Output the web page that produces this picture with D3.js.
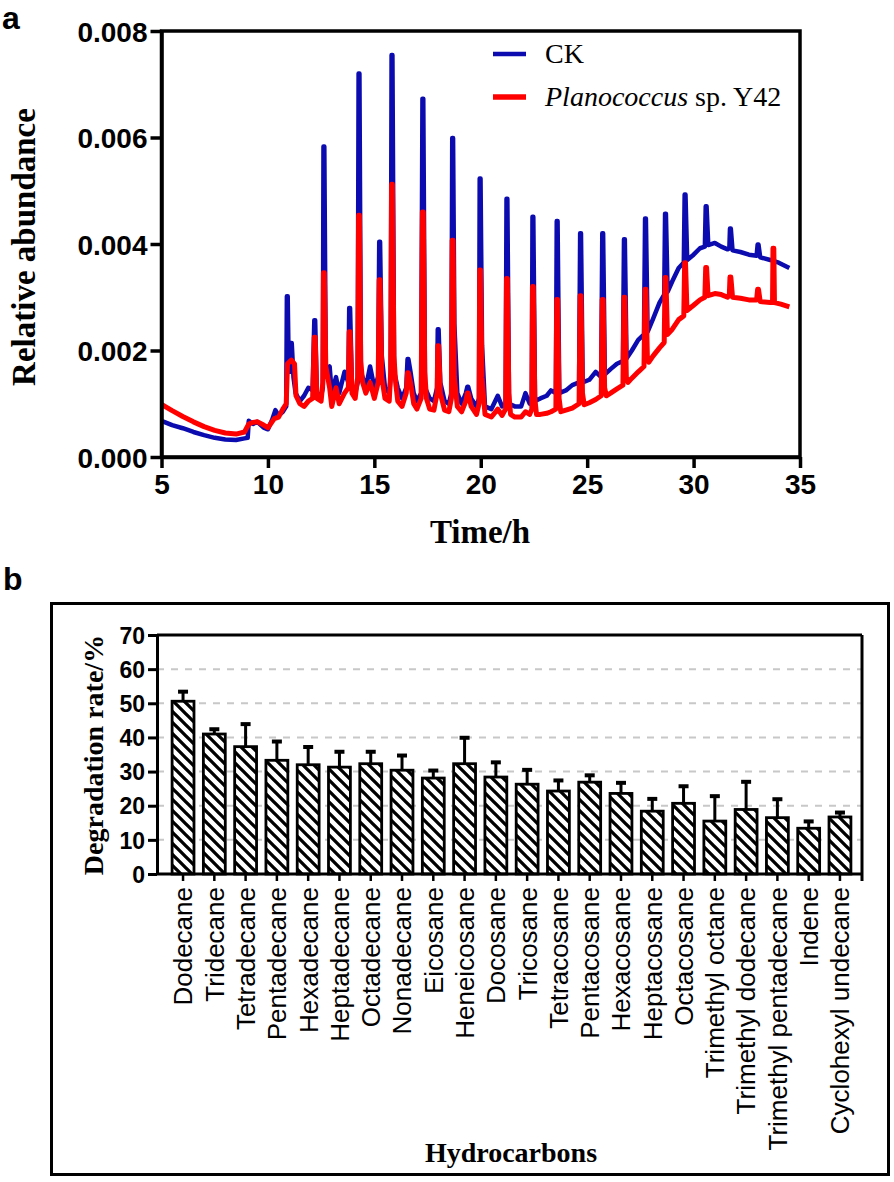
<!DOCTYPE html>
<html><head><meta charset="utf-8">
<script src="https://cdn.jsdelivr.net/npm/d3@7"></script>
<style>body{margin:0;background:#fff}svg{display:block}</style>
</head><body>
<svg id="c" width="894" height="1182"></svg>
<script>
// ---------- Panel a data (time h, relative abundance x1e-3) ----------
const ckSeries = [[5.0,0.68],[5.5,0.6],[6.0,0.54],[6.5,0.47],[7.0,0.41],[7.5,0.36],[8.0,0.33],[8.5,0.32],[8.9,0.35],[9.05,0.36],[9.1,0.68],[9.3,0.62],[9.5,0.66],[9.8,0.55],[10.0,0.52],[10.2,0.7],[10.35,0.88],[10.5,0.78],[10.7,0.85],[10.86,0.95],[10.89,3.02],[10.93,3.02],[10.98,1.6],[11.06,1.6],[11.08,2.14],[11.12,2.14],[11.2,1.5],[11.3,1.2],[11.5,1.05],[11.7,1.15],[11.9,1.3],[12.1,1.25],[12.18,2.57],[12.22,2.57],[12.3,1.2],[12.5,1.15],[12.58,1.3],[12.61,5.83],[12.65,5.83],[12.72,1.6],[12.9,1.7],[13.0,1.2],[13.2,1.5],[13.35,1.2],[13.6,1.6],[13.78,1.4],[13.82,2.8],[13.86,2.8],[13.95,1.3],[14.1,1.2],[14.22,1.4],[14.26,7.2],[14.3,7.2],[14.37,1.6],[14.6,1.3],[14.8,1.7],[15.0,1.3],[15.18,1.5],[15.23,4.04],[15.27,4.04],[15.35,1.9],[15.5,1.3],[15.7,1.2],[15.77,1.5],[15.81,7.55],[15.85,7.55],[15.93,1.6],[16.1,1.3],[16.3,1.1],[16.5,1.3],[16.56,1.84],[16.6,1.84],[16.7,1.6],[16.85,1.2],[17.0,1.05],[17.2,1.2],[17.26,6.73],[17.3,6.73],[17.38,1.3],[17.6,1.1],[17.8,1.05],[17.95,1.3],[17.98,2.4],[18.02,2.4],[18.1,1.4],[18.3,1.05],[18.5,1.0],[18.62,1.2],[18.66,5.99],[18.7,5.99],[18.76,2.5],[18.9,1.2],[19.1,1.0],[19.3,1.2],[19.37,1.32],[19.41,1.32],[19.55,1.1],[19.8,0.95],[19.92,1.1],[19.95,5.23],[19.99,5.23],[20.06,2.1],[20.2,0.95],[20.5,0.9],[20.8,1.15],[21.0,0.95],[21.17,1.0],[21.21,4.85],[21.25,4.85],[21.33,1.0],[21.6,0.95],[21.9,0.95],[22.1,1.2],[22.3,1.0],[22.4,1.05],[22.43,4.51],[22.47,4.51],[22.55,1.05],[22.8,1.1],[23.1,1.15],[23.3,1.25],[23.53,1.2],[23.57,4.43],[23.61,4.43],[23.69,1.2],[24.0,1.25],[24.3,1.35],[24.62,1.4],[24.67,4.2],[24.71,4.2],[24.79,1.4],[25.1,1.45],[25.4,1.6],[25.66,1.5],[25.71,4.2],[25.75,4.2],[25.83,1.55],[26.1,1.65],[26.4,1.75],[26.68,1.8],[26.73,4.09],[26.77,4.09],[26.85,1.85],[27.1,2.0],[27.4,2.2],[27.67,2.3],[27.72,4.48],[27.76,4.48],[27.84,2.35],[28.1,2.6],[28.4,2.9],[28.62,3.05],[28.66,4.57],[28.7,4.57],[28.78,3.1],[29.0,3.3],[29.3,3.55],[29.54,3.65],[29.58,4.93],[29.62,4.93],[29.7,3.7],[30.0,3.8],[30.3,3.92],[30.53,3.95],[30.57,4.71],[30.61,4.71],[30.69,3.98],[31.0,4.02],[31.3,3.95],[31.6,3.9],[31.68,3.92],[31.71,4.29],[31.75,4.29],[31.83,3.88],[32.2,3.85],[32.6,3.8],[32.96,3.78],[33.01,3.99],[33.05,3.99],[33.13,3.75],[33.6,3.7],[34.0,3.65],[34.5,3.55]];
const y42Series = [[5.0,0.99],[5.5,0.87],[6.0,0.76],[6.5,0.66],[7.0,0.57],[7.5,0.5],[8.0,0.45],[8.5,0.43],[8.9,0.47],[9.1,0.62],[9.3,0.65],[9.5,0.66],[9.8,0.6],[10.0,0.55],[10.3,0.72],[10.5,0.75],[10.7,0.9],[10.86,1.0],[10.92,1.75],[11.1,1.82],[11.25,1.75],[11.32,1.15],[11.5,1.0],[11.7,0.95],[11.9,1.05],[12.1,1.1],[12.18,2.25],[12.22,2.25],[12.3,1.1],[12.5,1.05],[12.58,1.4],[12.61,3.46],[12.65,3.46],[12.72,1.7],[12.9,1.3],[13.0,0.95],[13.2,1.3],[13.35,1.0],[13.6,1.2],[13.78,1.3],[13.82,2.35],[13.86,2.35],[13.95,1.2],[14.1,1.1],[14.22,1.5],[14.26,4.54],[14.3,4.54],[14.36,1.8],[14.45,1.4],[14.6,1.2],[14.8,1.4],[15.0,1.1],[15.18,1.4],[15.23,3.33],[15.27,3.33],[15.35,1.5],[15.5,1.1],[15.7,1.05],[15.77,1.6],[15.81,5.12],[15.85,5.12],[15.92,1.9],[16.0,1.4],[16.1,1.05],[16.3,0.95],[16.5,1.2],[16.56,1.58],[16.6,1.58],[16.7,1.4],[16.85,1.0],[17.0,0.9],[17.2,1.1],[17.26,4.6],[17.3,4.6],[17.37,1.6],[17.45,1.1],[17.6,0.9],[17.8,0.88],[17.95,1.2],[17.98,2.09],[18.02,2.09],[18.1,1.2],[18.3,0.88],[18.5,0.85],[18.62,1.1],[18.66,4.07],[18.7,4.07],[18.76,1.5],[18.9,0.95],[19.1,0.85],[19.3,1.05],[19.37,1.2],[19.41,1.2],[19.55,0.95],[19.8,0.8],[19.92,1.0],[19.95,3.51],[19.99,3.51],[20.06,1.5],[20.2,0.8],[20.5,0.75],[20.8,0.9],[21.0,0.78],[21.17,0.9],[21.21,3.35],[21.25,3.35],[21.32,1.2],[21.4,0.8],[21.6,0.75],[21.9,0.75],[22.1,0.85],[22.3,0.8],[22.4,0.9],[22.43,3.2],[22.47,3.2],[22.54,1.1],[22.62,0.8],[22.8,0.8],[23.1,0.82],[23.3,0.85],[23.53,0.9],[23.57,2.96],[23.61,2.96],[23.68,1.1],[23.76,0.85],[24.0,0.88],[24.3,0.92],[24.62,1.0],[24.67,3.03],[24.71,3.03],[24.78,1.2],[24.86,0.98],[25.1,1.02],[25.4,1.08],[25.66,1.15],[25.71,2.96],[25.75,2.96],[25.82,1.3],[25.9,1.15],[26.1,1.2],[26.4,1.28],[26.68,1.35],[26.73,3.0],[26.77,3.0],[26.84,1.5],[26.92,1.4],[27.1,1.48],[27.4,1.6],[27.67,1.7],[27.72,3.15],[27.76,3.15],[27.83,1.85],[27.9,1.78],[28.1,1.9],[28.4,2.05],[28.62,2.15],[28.66,3.37],[28.7,3.37],[28.77,2.3],[29.0,2.4],[29.3,2.58],[29.54,2.65],[29.58,3.65],[29.62,3.65],[29.69,2.75],[30.0,2.85],[30.3,2.95],[30.53,3.0],[30.57,3.56],[30.61,3.56],[30.68,3.03],[31.0,3.07],[31.3,3.05],[31.6,3.0],[31.68,3.05],[31.71,3.38],[31.75,3.38],[31.83,3.0],[32.2,2.98],[32.6,2.95],[32.96,2.95],[33.01,3.15],[33.05,3.15],[33.13,2.92],[33.6,2.9],[33.71,2.9],[33.73,3.92],[33.77,3.92],[33.8,2.9],[34.1,2.87],[34.5,2.82]];
const timeTicks = [5,10,15,20,25,30,35];
const abundanceTicks = [0,0.002,0.004,0.006,0.008];
const seriesNames = ["CK","Planococcus sp. Y42"];

// ---------- Panel b data ----------
const hydrocarbons = ["Dodecane","Tridecane","Tetradecane","Pentadecane","Hexadecane","Heptadecane","Octadecane","Nonadecane","Eicosane","Heneicosane","Docosane","Tricosane","Tetracosane","Pentacosane","Hexacosane","Heptacosane","Octacosane","Trimethyl octane","Trimethyl dodecane","Trimethyl pentadecane","Indene","Cyclohexyl undecane"];
const degradation = [50.6,41.0,37.3,33.3,32.0,31.3,32.3,30.4,28.1,32.3,28.4,26.3,24.3,26.9,23.6,18.4,20.7,15.5,18.9,16.5,13.4,16.7];
const errUpper = [2.8,1.4,6.6,5.5,5.2,4.5,3.5,4.3,2.2,7.6,4.3,4.2,3.1,2.0,3.1,3.6,5.0,7.3,8.1,5.4,2.0,1.3];
const rateTicks = [0,10,20,30,40,50,60,70];

const svg = d3.select("#c");
const ARIAL = "'Liberation Sans', Arial, sans-serif";
const TIMES = "'Liberation Serif', 'Times New Roman', serif";

// ================= Panel a =================
const xA = d3.scaleLinear().domain([5,35]).range([161.5,800]);
const yA = d3.scaleLinear().domain([0,0.008]).range([457,31]);
const gA = svg.append("g");

const line = d3.line().x(d=>xA(d[0])).y(d=>yA(d[1]/1000));
gA.append("path").datum(ckSeries).attr("d",line).attr("fill","none")
  .attr("stroke","#0b0bb0").attr("stroke-width",4.5).attr("stroke-linejoin","round");
gA.append("path").datum(y42Series).attr("d",line).attr("fill","none")
  .attr("stroke","#ff0000").attr("stroke-width",5).attr("stroke-linejoin","round");

// frame
gA.append("rect").attr("x",xA(5)).attr("y",yA(0.008)).attr("width",xA(35)-xA(5)).attr("height",yA(0)-yA(0.008))
  .attr("fill","none").attr("stroke","#000").attr("stroke-width",3.5);

const axA = gA.append("g").attr("transform",`translate(0,${yA(0)})`)
  .call(d3.axisBottom(xA).tickValues(timeTicks).tickSize(11).tickSizeOuter(0).tickPadding(6));
axA.select(".domain").attr("stroke-width",3.5);
axA.selectAll(".tick line").attr("stroke-width",3.5);
axA.selectAll(".tick text").attr("font-family",ARIAL).attr("font-weight","bold").attr("font-size",28).attr("fill","#000");

const ayA = gA.append("g").attr("transform",`translate(${xA(5)},0)`)
  .call(d3.axisLeft(yA).tickValues(abundanceTicks).tickFormat(d3.format(".3f")).tickSize(11).tickSizeOuter(0).tickPadding(3));
ayA.select(".domain").attr("stroke-width",3.5);
ayA.selectAll(".tick line").attr("stroke-width",3.5);
ayA.selectAll(".tick text").attr("font-family",ARIAL).attr("font-weight","bold").attr("font-size",28).attr("fill","#000").attr("dy","0.36em");

gA.append("text").attr("x",480).attr("y",543).attr("text-anchor","middle")
  .attr("font-family",TIMES).attr("font-weight","bold").attr("font-size",33).text("Time/h");
gA.append("text").attr("transform","translate(35,247) rotate(-90)").attr("text-anchor","middle")
  .attr("font-family",TIMES).attr("font-weight","bold").attr("font-size",33).text("Relative abundance");

// legend
const legColors = ["#0b0bb0","#ff0000"];
const leg = gA.append("g");
seriesNames.forEach((n,i)=>{
  const yy = 54 + i*43;
  leg.append("line").attr("x1",493).attr("x2",526).attr("y1",yy).attr("y2",yy)
    .attr("stroke",legColors[i]).attr("stroke-width",i?5.5:4.5);
  const t = leg.append("text").attr("x",545).attr("y",yy+9).attr("font-family",TIMES).attr("font-size",28);
  if(i===0){ t.text(n); }
  else {
    t.append("tspan").attr("font-style","italic").text("Planococcus");
    t.append("tspan").text(" sp. Y42");
  }
});

svg.append("text").attr("x",2).attr("y",29).attr("font-family",ARIAL).attr("font-weight","bold").attr("font-size",32).text("a");

// ================= Panel b =================
svg.append("text").attr("x",3).attr("y",590).attr("font-family",ARIAL).attr("font-weight","bold").attr("font-size",32).text("b");
svg.append("rect").attr("x",51.5).attr("y",603.5).attr("width",837).attr("height",571)
  .attr("fill","none").attr("stroke","#000").attr("stroke-width",3);

const xB = d3.scaleBand().domain(hydrocarbons).range([167.4,855.6]).paddingInner(0.3).paddingOuter(0.15);
const yB = d3.scaleLinear().domain([0,70]).range([874,635]);
const gB = svg.append("g");
const L = 157, R = 862;

// hatch pattern
const defs = svg.append("defs");
const P = 11;
const pat = defs.append("pattern").attr("id","hatch").attr("patternUnits","userSpaceOnUse")
  .attr("width",P).attr("height",P);
pat.append("rect").attr("width",P).attr("height",P).attr("fill","#fff");
pat.append("path").attr("d",`M-2,-2 L${P+2},${P+2} M-${P/2+2},${P/2-2} L${P/2+2},${P+P/2+2} M${P/2-2},-${P/2+2} L${P+P/2+2},${P/2+2}`)
  .attr("stroke","#000").attr("stroke-width",3.3);

// grid
gB.selectAll("line.grid").data(rateTicks.filter(d=>d>0&&d<70)).enter().append("line")
  .attr("x1",L).attr("x2",R).attr("y1",d=>yB(d)).attr("y2",d=>yB(d))
  .attr("stroke","#c8c8c8").attr("stroke-width",2).attr("stroke-dasharray","7,7");

// bars
gB.selectAll("rect.bar").data(hydrocarbons).enter().append("rect")
  .attr("x",d=>xB(d)).attr("width",xB.bandwidth())
  .attr("y",(d,i)=>yB(degradation[i])).attr("height",(d,i)=>yB(0)-yB(degradation[i]))
  .attr("fill","url(#hatch)").attr("stroke","#000").attr("stroke-width",2.8);

// error bars
const eb = gB.selectAll("g.err").data(hydrocarbons).enter().append("g");
eb.append("line").attr("x1",d=>xB(d)+xB.bandwidth()/2).attr("x2",d=>xB(d)+xB.bandwidth()/2)
  .attr("y1",(d,i)=>yB(degradation[i])).attr("y2",(d,i)=>yB(degradation[i]+errUpper[i]))
  .attr("stroke","#000").attr("stroke-width",3);
eb.append("line").attr("x1",d=>xB(d)+xB.bandwidth()/2-5).attr("x2",d=>xB(d)+xB.bandwidth()/2+5)
  .attr("y1",(d,i)=>yB(degradation[i]+errUpper[i])).attr("y2",(d,i)=>yB(degradation[i]+errUpper[i]))
  .attr("stroke","#000").attr("stroke-width",4);

// frame top/right
gB.append("line").attr("x1",L).attr("x2",R).attr("y1",yB(70)).attr("y2",yB(70)).attr("stroke","#000").attr("stroke-width",3);
gB.append("line").attr("x1",R).attr("x2",R).attr("y1",yB(70)).attr("y2",yB(0)+7).attr("stroke","#000").attr("stroke-width",3);

// axes
const axB = gB.append("g").attr("transform",`translate(0,${yB(0)})`)
  .call(d3.axisBottom(xB).tickSize(7).tickSizeOuter(0).tickPadding(6));
axB.select(".domain").attr("d",`M${L},0H${R}`).attr("stroke-width",3);
axB.selectAll(".tick line").attr("stroke-width",2.5);
axB.selectAll(".tick text").attr("font-family",ARIAL).attr("font-size",26).attr("fill","#000")
  .attr("transform","rotate(-90)").attr("text-anchor","end").attr("x",-13).attr("y",0).attr("dy","0.36em");

const ayB = gB.append("g").attr("transform",`translate(${L},0)`)
  .call(d3.axisLeft(yB).tickValues(rateTicks).tickSize(9).tickSizeOuter(0).tickPadding(3));
ayB.select(".domain").attr("stroke-width",3);
ayB.selectAll(".tick line").attr("stroke-width",3);
ayB.selectAll(".tick text").attr("font-family",ARIAL).attr("font-weight","bold").attr("font-size",23).attr("fill","#000").attr("dy","0.36em");

gB.append("text").attr("x",511).attr("y",1162).attr("text-anchor","middle")
  .attr("font-family",TIMES).attr("font-weight","bold").attr("font-size",28).text("Hydrocarbons");
gB.append("text").attr("transform","translate(103,755) rotate(-90)").attr("text-anchor","middle")
  .attr("font-family",TIMES).attr("font-weight","bold").attr("font-size",28).text("Degradation rate/%");
</script>
</body></html>
